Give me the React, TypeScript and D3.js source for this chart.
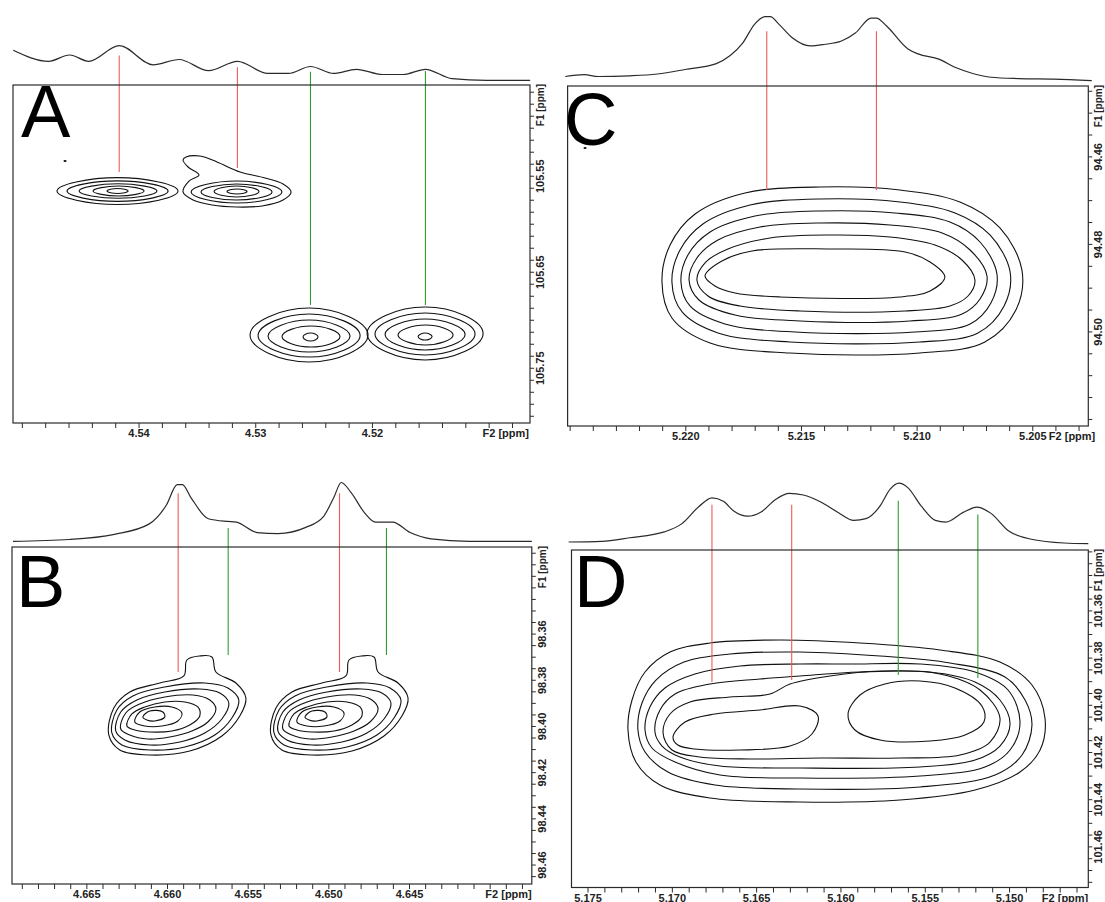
import React from 'react';
import * as d3 from 'd3';

type Pt = [number, number];
type Ring = [number, number, number, number]; // F2 left, F2 right, F1 top, F1 bottom (ppm)
type Cursor = [number, number, number, 'a' | 'b']; // F2 ppm, projection height, F1 end ppm, group

// ---------- Panel A ----------
const f2RangeA: Pt = [4.5508, 4.5065];
const f1RangeA: Pt = [105.455, 105.807];
const f2LabelsA = [4.54, 4.53, 4.52];
const f1LabelsA = [105.55, 105.65, 105.75];
const projA: Pt[] = [
  [4.55078, 85.6], [4.54774, 54.7], [4.54595, 72.2], [4.54432, 54.7], [4.5417, 98.3],
  [4.5388, 45.0], [4.53657, 59.7], [4.53404, 28.6], [4.53157, 54.7], [4.52898, 21.1],
  [4.52719, 21.1], [4.52531, 40.3], [4.52332, 21.1], [4.52138, 32.5], [4.51915, 18.1],
  [4.51736, 18.1], [4.51546, 32.5], [4.51319, 6.4], [4.51021, 1.7], [4.50649, 1.7],
];
// elliptical contour levels (outer to inner) for each cross peak
const ringsA: Ring[] = [
  [4.54703, 4.53666, 105.5515, 105.5795], [4.54617, 4.53751, 105.5548, 105.5762],
  [4.54514, 4.53846, 105.5579, 105.573], [4.54394, 4.53957, 105.5602, 105.5706],
  [4.54274, 4.54094, 105.5628, 105.568],
  [4.53554, 4.52775, 105.555, 105.5779],
  [4.53469, 4.5286, 105.5581, 105.5748], [4.53357, 4.52972, 105.5602, 105.5717],
  [4.53246, 4.53075, 105.5633, 105.5685],
  [4.53049, 4.52038, 105.6873, 105.7435], [4.5298, 4.52106, 105.6935, 105.7383],
  [4.52895, 4.52192, 105.6998, 105.7331], [4.52775, 4.52278, 105.706, 105.7279],
  [4.52595, 4.52466, 105.7133, 105.7216],
  [4.52046, 4.51052, 105.6862, 105.7414], [4.51978, 4.51121, 105.6925, 105.7362],
  [4.51892, 4.51206, 105.6987, 105.731], [4.51781, 4.51309, 105.705, 105.7258],
  [4.51609, 4.51489, 105.7133, 105.7206],
  [4.54643, 4.54625, 105.5336, 105.5347],
];
const polysA: Pt[][] = [
  [[4.53623, 105.5664], [4.53572, 105.555], [4.53486, 105.5487], [4.5358, 105.5404],
   [4.53623, 105.5331], [4.53597, 105.53], [4.53477, 105.529], [4.53332, 105.5352],
   [4.53134, 105.5456], [4.5292, 105.5519], [4.52766, 105.5581], [4.52697, 105.5664],
   [4.52766, 105.5748], [4.52946, 105.581], [4.5316, 105.5821], [4.53374, 105.58],
   [4.53537, 105.5748]],
];
const cursorsA: Cursor[] = [
  [4.5417, 71.1, 105.5456, 'a'], [4.53157, 38.3, 105.5415, 'a'],
  [4.52531, 25.8, 105.6841, 'b'], [4.51546, 27.8, 105.6841, 'b'],
];

// ---------- Panel B ----------
const f2RangeB: Pt = [4.66964, 4.63742];
const f1RangeB: Pt = [98.3223, 98.4682];
const f2LabelsB = [4.665, 4.66, 4.655, 4.65, 4.645];
const f1LabelsB = [98.36, 98.38, 98.4, 98.42, 98.44, 98.46];
const projB: Pt[] = [
  [4.66958, 1.2], [4.66609, 4.2], [4.66329, 12.8], [4.66113, 30.2], [4.66006, 62.0],
  [4.6594, 95.7], [4.65908, 95.7], [4.65854, 73.7], [4.65747, 38.8], [4.65628, 34.3],
  [4.65574, 33.2], [4.65445, 15.7], [4.65315, 14.0], [4.65143, 24.3], [4.65035, 41.8],
  [4.6497, 73.7], [4.64923, 99.2], [4.64862, 82.3], [4.64776, 47.7], [4.64712, 33.2],
  [4.64604, 33.2], [4.64496, 15.7], [4.64367, 5.3], [4.6413, 1.2], [4.63742, 1.2],
];
const polysB: Pt[][] = [
  // cross peak at 4.659 ppm
  [[4.66364, 98.40368], [4.66333, 98.392], [4.66234, 98.38507], [4.66048, 98.38117],
   [4.65899, 98.37814], [4.6588, 98.37122], [4.658, 98.36949], [4.65725, 98.36992],
   [4.657, 98.37641], [4.65576, 98.38117], [4.65514, 98.38767], [4.65552, 98.39546],
   [4.65663, 98.40412], [4.65862, 98.41061], [4.6611, 98.41234], [4.66296, 98.41018]],
  [[4.66345, 98.40282], [4.66314, 98.39286], [4.66215, 98.3868], [4.66017, 98.38291],
   [4.65769, 98.38117], [4.65626, 98.38334], [4.65558, 98.38853], [4.65601, 98.39633],
   [4.65707, 98.40368], [4.65893, 98.40888], [4.6611, 98.41018], [4.66283, 98.40801]],
  [[4.66321, 98.40195], [4.6629, 98.39373], [4.6619, 98.38853], [4.66017, 98.38507],
   [4.658, 98.38377], [4.65676, 98.3855], [4.6562, 98.38983], [4.65663, 98.39676],
   [4.65769, 98.40282], [4.65924, 98.40671], [4.6611, 98.40801], [4.66265, 98.40585]],
  [[4.6629, 98.40109], [4.66259, 98.39416], [4.66172, 98.39027], [4.66017, 98.38723],
   [4.65843, 98.38637], [4.65738, 98.38853], [4.657, 98.39243], [4.6575, 98.39806],
   [4.65849, 98.40195], [4.65986, 98.40455], [4.66122, 98.40542], [4.66234, 98.40368]],
  [[4.66252, 98.39979], [4.66221, 98.39459], [4.66141, 98.39156], [4.66017, 98.3894],
   [4.65893, 98.3894], [4.65812, 98.39156], [4.658, 98.39546], [4.65862, 98.39936],
   [4.65973, 98.40195], [4.6611, 98.40239], [4.66203, 98.40152]],
  [[4.66203, 98.39806], [4.66172, 98.39373], [4.66079, 98.39156], [4.65973, 98.39156],
   [4.65911, 98.39416], [4.65936, 98.39762], [4.66035, 98.39979], [4.66141, 98.39979]],
  [[4.66153, 98.39589], [4.6611, 98.3933], [4.66029, 98.39373], [4.66017, 98.39589],
   [4.66079, 98.39762], [4.66128, 98.39719]],
  // cross peak at 4.649 ppm
  [[4.65359, 98.40368], [4.65328, 98.392], [4.65229, 98.38507], [4.65043, 98.38117],
   [4.64894, 98.37814], [4.64875, 98.37122], [4.64795, 98.36949], [4.6472, 98.36992],
   [4.64695, 98.37641], [4.64571, 98.38117], [4.64509, 98.38767], [4.64547, 98.39546],
   [4.64658, 98.40412], [4.64857, 98.41061], [4.65105, 98.41234], [4.65291, 98.41018]],
  [[4.6534, 98.40282], [4.65309, 98.39286], [4.6521, 98.3868], [4.65012, 98.38291],
   [4.64764, 98.38117], [4.64621, 98.38334], [4.64553, 98.38853], [4.64596, 98.39633],
   [4.64702, 98.40368], [4.64888, 98.40888], [4.65105, 98.41018], [4.65278, 98.40801]],
  [[4.65316, 98.40195], [4.65285, 98.39373], [4.65185, 98.38853], [4.65012, 98.38507],
   [4.64795, 98.38377], [4.64671, 98.3855], [4.64615, 98.38983], [4.64658, 98.39676],
   [4.64764, 98.40282], [4.64919, 98.40671], [4.65105, 98.40801], [4.6526, 98.40585]],
  [[4.65285, 98.40109], [4.65254, 98.39416], [4.65167, 98.39027], [4.65012, 98.38723],
   [4.64838, 98.38637], [4.64733, 98.38853], [4.64695, 98.39243], [4.64745, 98.39806],
   [4.64844, 98.40195], [4.64981, 98.40455], [4.65117, 98.40542], [4.65229, 98.40368]],
  [[4.65247, 98.39979], [4.65216, 98.39459], [4.65136, 98.39156], [4.65012, 98.3894],
   [4.64888, 98.3894], [4.64807, 98.39156], [4.64795, 98.39546], [4.64857, 98.39936],
   [4.64968, 98.40195], [4.65105, 98.40239], [4.65198, 98.40152]],
  [[4.65198, 98.39806], [4.65167, 98.39373], [4.65074, 98.39156], [4.64968, 98.39156],
   [4.64906, 98.39416], [4.64931, 98.39762], [4.6503, 98.39979], [4.65136, 98.39979]],
  [[4.65148, 98.39589], [4.65105, 98.3933], [4.65024, 98.39373], [4.65012, 98.39589],
   [4.65074, 98.39762], [4.65123, 98.39719]],
];
const cursorsB: Cursor[] = [
  [4.65934, 81.2, 98.37641, 'a'], [4.65624, 23.3, 98.36905, 'b'],
  [4.64934, 81.2, 98.37641, 'a'], [4.64643, 23.3, 98.36905, 'b'],
];

// ---------- Panel C ----------
const f2RangeC: Pt = [5.22511, 5.2026];
const f1RangeC: Pt = [94.4438, 94.5215];
const f2LabelsC = [5.22, 5.215, 5.21, 5.205];
const f1LabelsC = [94.46, 94.48, 94.5];
const projC: Pt[] = [
  [5.22521, 6.9], [5.22439, 9.7], [5.22379, 6.9], [5.22243, 8.0], [5.22123, 10.8],
  [5.22003, 17.7], [5.21868, 26.8], [5.21808, 39.1], [5.21755, 57.8], [5.21703, 87.2],
  [5.21657, 98.9], [5.21635, 98.9], [5.21597, 87.2], [5.21537, 65.8], [5.21462, 54.0],
  [5.21402, 56.2], [5.21327, 61.5], [5.21267, 73.8], [5.21199, 96.8], [5.21176, 96.8],
  [5.21132, 84.5], [5.21041, 49.7], [5.20996, 41.7], [5.20906, 33.7], [5.20831, 20.3],
  [5.20756, 11.2], [5.20681, 5.8], [5.2056, 3.7], [5.2041, 2.8], [5.20245, 0.6],
];
const ringsC: Ring[] = [
  [5.2244, 5.22431, 94.45785, 94.45808],
];
const polysC: Pt[][] = [
  [[5.22103, 94.48859], [5.22068, 94.48013], [5.2196, 94.47305], [5.21744, 94.46825],
   [5.2142, 94.46688], [5.21074, 94.46757], [5.20815, 94.47031], [5.20642, 94.47625],
   [5.20547, 94.48584], [5.20573, 94.49499], [5.20707, 94.5023], [5.20988, 94.50481],
   [5.2155, 94.50481], [5.21895, 94.50253], [5.2206, 94.49681]],
  [[5.2206, 94.48859], [5.22025, 94.48128], [5.21926, 94.47533], [5.21722, 94.47099],
   [5.2142, 94.46962], [5.21074, 94.47031], [5.20836, 94.47282], [5.20685, 94.47785],
   [5.20598, 94.4863], [5.20624, 94.49407], [5.20737, 94.50024], [5.20988, 94.5023],
   [5.2155, 94.5023], [5.21861, 94.50024], [5.22016, 94.49544]],
  [[5.22021, 94.48859], [5.21991, 94.48242], [5.21895, 94.47716], [5.21701, 94.47351],
   [5.2142, 94.47236], [5.21096, 94.47282], [5.20858, 94.47488], [5.20728, 94.47945],
   [5.20655, 94.48676], [5.20681, 94.49339], [5.20771, 94.49818], [5.21009, 94.50001],
   [5.21528, 94.50001], [5.21831, 94.49818], [5.21982, 94.49407]],
  [[5.21986, 94.48813], [5.21952, 94.4831], [5.21861, 94.47899], [5.21679, 94.47602],
   [5.2142, 94.47511], [5.21117, 94.47556], [5.20892, 94.47739], [5.20771, 94.48128],
   [5.20698, 94.48722], [5.20728, 94.49247], [5.20806, 94.4959], [5.21031, 94.4975],
   [5.21506, 94.4975], [5.21787, 94.49613], [5.21943, 94.4927]],
  [[5.21952, 94.48813], [5.21913, 94.48402], [5.21818, 94.48105], [5.21636, 94.47853],
   [5.21377, 94.47785], [5.21117, 94.4783], [5.20923, 94.48013], [5.20806, 94.48356],
   [5.2075, 94.48813], [5.2078, 94.49179], [5.20858, 94.49407], [5.21052, 94.49521],
   [5.21506, 94.49521], [5.21766, 94.49407], [5.21904, 94.49179]],
  [[5.21917, 94.48722], [5.21844, 94.48379], [5.21714, 94.4815], [5.21377, 94.48105],
   [5.21052, 94.48173], [5.20944, 94.48402], [5.2088, 94.48744], [5.20944, 94.49064],
   [5.21074, 94.49201], [5.21593, 94.49201], [5.21787, 94.4911], [5.21874, 94.4895]],
];
const cursorsC: Cursor[] = [
  [5.2165, 76.5, 94.46757, 'a'], [5.21176, 76.5, 94.46757, 'a'],
];

// ---------- Panel D ----------
const f2RangeD: Pt = [5.17598, 5.14533];
const f1RangeD: Pt = [101.3342, 101.4772];
const f2LabelsD = [5.175, 5.17, 5.165, 5.16, 5.155, 5.15];
const f1LabelsD = [101.36, 101.38, 101.4, 101.42, 101.44, 101.46];
const projD: Pt[] = [
  [5.17615, 3.3], [5.17419, 4.4], [5.17254, 10.2], [5.17048, 19.8], [5.16945, 33.0],
  [5.16842, 61.5], [5.16765, 75.7], [5.16697, 70.0], [5.16636, 54.1], [5.16553, 45.6],
  [5.16471, 53.0], [5.16388, 73.0], [5.16306, 83.1], [5.16223, 80.3], [5.1612, 68.9],
  [5.16017, 51.8], [5.15924, 38.7], [5.15852, 41.5], [5.1577, 61.5], [5.15708, 90.0],
  [5.15656, 99.7], [5.15605, 92.8], [5.15522, 61.5], [5.1544, 38.7], [5.15378, 35.9],
  [5.15275, 51.8], [5.15193, 60.3], [5.1511, 50.2], [5.15007, 21.6], [5.14863, 7.4],
  [5.14677, 1.6], [5.14533, 0.5],
];
const polysD: Pt[][] = [
  [[5.17263, 101.41047], [5.17239, 101.39776], [5.17162, 101.3859], [5.17014, 101.37742],
   [5.16777, 101.37361], [5.16362, 101.37234], [5.15887, 101.37361], [5.15413, 101.37657],
   [5.15057, 101.38166], [5.14867, 101.3914], [5.1479, 101.40539], [5.14819, 101.41895],
   [5.14938, 101.42827], [5.15205, 101.4359], [5.1565, 101.44013], [5.16243, 101.44098],
   [5.16777, 101.43929], [5.17073, 101.43378], [5.17216, 101.42403]],
  [[5.17204, 101.41047], [5.1718, 101.39903], [5.17097, 101.38929], [5.16931, 101.38166],
   [5.16658, 101.37827], [5.16243, 101.37742], [5.15768, 101.37912], [5.15353, 101.38208],
   [5.15027, 101.38801], [5.14908, 101.39776], [5.14867, 101.40835], [5.14926, 101.42107],
   [5.15086, 101.42954], [5.15531, 101.43462], [5.16243, 101.43547], [5.16747, 101.43378],
   [5.17026, 101.42827], [5.17162, 101.41979]],
  [[5.17162, 101.41047], [5.17133, 101.40073], [5.17044, 101.39268], [5.16866, 101.38674],
   [5.16599, 101.38335], [5.16243, 101.38251], [5.15946, 101.38251], [5.15531, 101.38251],
   [5.15205, 101.3859], [5.15009, 101.39352], [5.14938, 101.40708], [5.14997, 101.41895],
   [5.15146, 101.42615], [5.15531, 101.42996], [5.16243, 101.43081], [5.16717, 101.42954],
   [5.16984, 101.42403], [5.17121, 101.4181]],
  [[5.17103, 101.41132], [5.17073, 101.402], [5.16984, 101.39522], [5.16777, 101.39098],
   [5.1648, 101.38886], [5.16243, 101.38759], [5.15887, 101.3859], [5.15472, 101.3859],
   [5.15205, 101.39013], [5.15057, 101.39776], [5.14997, 101.40793], [5.15057, 101.41725],
   [5.15205, 101.42318], [5.15531, 101.42615], [5.16243, 101.42657], [5.16717, 101.42573],
   [5.16955, 101.42191], [5.17061, 101.41725]],
  [[5.17055, 101.41174], [5.17014, 101.40369], [5.16895, 101.39861], [5.16658, 101.39649],
   [5.16421, 101.39522], [5.16302, 101.39098], [5.16065, 101.38759], [5.15768, 101.38547],
   [5.15413, 101.38674], [5.15175, 101.39352], [5.15057, 101.40539], [5.15116, 101.41556],
   [5.15294, 101.42107], [5.1565, 101.42234], [5.16124, 101.42234], [5.16539, 101.42276],
   [5.16836, 101.42191], [5.17002, 101.41895]],
  [[5.16996, 101.41344], [5.16925, 101.40708], [5.16747, 101.40369], [5.1648, 101.402],
   [5.16243, 101.4003], [5.16136, 101.40454], [5.16172, 101.41217], [5.16302, 101.41725],
   [5.16599, 101.41895], [5.16866, 101.41852], [5.16967, 101.41683]],
  [[5.15958, 101.40369], [5.15887, 101.39564], [5.15739, 101.39098], [5.15531, 101.38971],
   [5.15324, 101.39268], [5.15164, 101.4003], [5.15152, 101.40708], [5.15264, 101.41259],
   [5.15472, 101.41513], [5.15768, 101.41471], [5.15917, 101.41047]],
];
const cursorsD: Cursor[] = [
  [5.16765, 64.3, 101.39013, 'a'], [5.16292, 64.3, 101.38929, 'a'],
  [5.1566, 71.1, 101.38717, 'b'], [5.15188, 48.4, 101.38844, 'b'],
];

const FONT = '"Liberation Sans", Arial, Helvetica, sans-serif';
const INK = '#2b2b2b';
const CURSOR_COLOR = { a: '#ee5a5a', b: '#2e9e2e' };

interface Box { x0: number; x1: number; y0: number; y1: number }
interface PanelProps {
  letter: string;
  letterAt: Pt;
  box: Box;
  projBase: number;
  projTop: number;
  f2Range: Pt;
  f1Range: Pt;
  f2Labels: number[];
  f1Labels: number[];
  f2Step: number;
  f1Step: number;
  f2Digits: number;
  f2TitleShift: number;
  proj: Pt[];
  rings: Ring[];
  polys: Pt[][];
  cursors: Cursor[];
}

function stepTicks(range: Pt, step: number): number[] {
  const lo = Math.min(range[0], range[1]);
  const hi = Math.max(range[0], range[1]);
  const out: number[] = [];
  for (let k = Math.ceil(lo / step - 1e-9); k * step <= hi + 1e-12; k++) out.push(k * step);
  return out;
}

function Panel(p: PanelProps) {
  const { box } = p;
  const x = d3.scaleLinear().domain(p.f2Range).range([box.x0, box.x1]);
  const y = d3.scaleLinear().domain(p.f1Range).range([box.y0, box.y1]);
  const yp = d3.scaleLinear().domain([0, 100]).range([p.projBase, p.projTop]);

  const projPath = d3.line<Pt>().x(d => x(d[0])).y(d => yp(d[1])).curve(d3.curveMonotoneX)(p.proj) || '';
  const ellipseLine = d3.line<Pt>().x(d => x(d[0])).y(d => y(d[1])).curve(d3.curveCardinalClosed.tension(-0.45));
  const polyLine = d3.line<Pt>().x(d => x(d[0])).y(d => y(d[1])).curve(d3.curveCatmullRomClosed.alpha(0.5));
  const ringPts = (r: Ring): Pt[] => {
    const [l, rr, t, b] = r;
    const mx = (l + rr) / 2;
    const my = (t + b) / 2;
    return [[l, my], [mx, t], [rr, my], [mx, b]];
  };

  const f2Fmt = d3.format(`.${p.f2Digits}f`);
  const f1Fmt = d3.format('.2f');
  const bottomTicks = stepTicks(p.f2Range, p.f2Step);
  const rightTicks = stepTicks(p.f1Range, p.f1Step);
  const lx = box.x1 + 14;

  return (
    <g>
      {/* 1D projection along F2 */}
      <path d={projPath} fill="none" stroke={INK} strokeWidth={1.2} />

      {/* contour levels */}
      <g fill="none" stroke="#111" strokeWidth={1.1} strokeLinejoin="round">
        {p.rings.map((r, i) => (
          <path key={`e${i}`} d={ellipseLine(ringPts(r)) || ''} />
        ))}
        {p.polys.map((poly, i) => (
          <path key={`p${i}`} d={polyLine(poly) || ''} />
        ))}
      </g>

      {/* cursor lines linking projection peaks to cross peaks */}
      {p.cursors.map((c, i) => (
        <line key={i} x1={x(c[0])} x2={x(c[0])} y1={yp(c[1])} y2={y(c[2])}
          stroke={CURSOR_COLOR[c[3]]} strokeWidth={1.1} />
      ))}

      {/* frame */}
      <rect x={box.x0} y={box.y0} width={box.x1 - box.x0} height={box.y1 - box.y0}
        fill="none" stroke={INK} strokeWidth={1.2} />

      {/* F2 axis (bottom) */}
      <g stroke={INK} strokeWidth={1}>
        {bottomTicks.map((v, i) => (
          <line key={i} x1={x(v)} x2={x(v)} y1={box.y1} y2={box.y1 + 5} />
        ))}
      </g>
      <g fontFamily={FONT} fontSize={11} fontWeight="bold" fill="#222" textAnchor="middle">
        {p.f2Labels.map((v, i) => (
          <text key={i} x={x(v)} y={box.y1 + 14}>{f2Fmt(v)}</text>
        ))}
        <text x={box.x1 + p.f2TitleShift} y={box.y1 + 14} textAnchor="end">F2 [ppm]</text>
      </g>

      {/* F1 axis (right) */}
      <g stroke={INK} strokeWidth={1}>
        {rightTicks.map((v, i) => (
          <line key={i} x1={box.x1} x2={box.x1 + 4} y1={y(v)} y2={y(v)} />
        ))}
      </g>
      <g fontFamily={FONT} fontSize={11} fontWeight="bold" fill="#222">
        {p.f1Labels.map((v, i) => (
          <text key={i} x={lx} y={y(v)} textAnchor="middle"
            transform={`rotate(-90 ${lx} ${y(v)})`}>{f1Fmt(v)}</text>
        ))}
        <text x={lx} y={box.y0 - 1} textAnchor="end" fontSize={10}
          transform={`rotate(-90 ${lx} ${box.y0 - 1})`}>F1 [ppm]</text>
      </g>

      {/* panel letter */}
      <text x={p.letterAt[0]} y={p.letterAt[1]} fontFamily={FONT} fontSize={74} fill="#000">{p.letter}</text>
    </g>
  );
}

export default function App() {
  return (
    <div style={{ position: 'fixed', left: 0, top: 0, width: 1105, height: 902, overflow: 'hidden', background: '#fff' }}>
      <svg width={1105} height={902} viewBox="0 0 1105 902">
        <rect width={1105} height={902} fill="#fff" />
        <Panel letter="A" letterAt={[21, 137]} box={{ x0: 13, x1: 530, y0: 85, y1: 423 }}
          projBase={81} projTop={45} f2Range={f2RangeA} f1Range={f1RangeA}
          f2Labels={f2LabelsA} f1Labels={f1LabelsA} f2Step={0.002} f1Step={0.0125} f2Digits={2}
          f2TitleShift={-1} proj={projA} rings={ringsA} polys={polysA} cursors={cursorsA} />
        <Panel letter="B" letterAt={[16, 607]} box={{ x0: 12, x1: 531.8, y0: 547, y1: 884 }}
          projBase={542} projTop={482} f2Range={f2RangeB} f1Range={f1RangeB}
          f2Labels={f2LabelsB} f1Labels={f1LabelsB} f2Step={0.001} f1Step={0.005} f2Digits={3}
          f2TitleShift={0} proj={projB} rings={[]} polys={polysB} cursors={cursorsB} />
        <Panel letter="C" letterAt={[564, 145]} box={{ x0: 567.6, x1: 1088.3, y0: 86, y1: 426 }}
          projBase={81} projTop={16} f2Range={f2RangeC} f1Range={f1RangeC}
          f2Labels={f2LabelsC} f1Labels={f1LabelsC} f2Step={0.001} f1Step={0.005} f2Digits={3}
          f2TitleShift={7} proj={projC} rings={ringsC} polys={polysC} cursors={cursorsC} />
        <Panel letter="D" letterAt={[574, 607]} box={{ x0: 571.5, x1: 1088.3, y0: 550, y1: 887.5 }}
          projBase={544} projTop={483} f2Range={f2RangeD} f1Range={f1RangeD}
          f2Labels={f2LabelsD} f1Labels={f1LabelsD} f2Step={0.001} f1Step={0.005} f2Digits={3}
          f2TitleShift={0} proj={projD} rings={[]} polys={polysD} cursors={cursorsD} />
      </svg>
    </div>
  );
}
